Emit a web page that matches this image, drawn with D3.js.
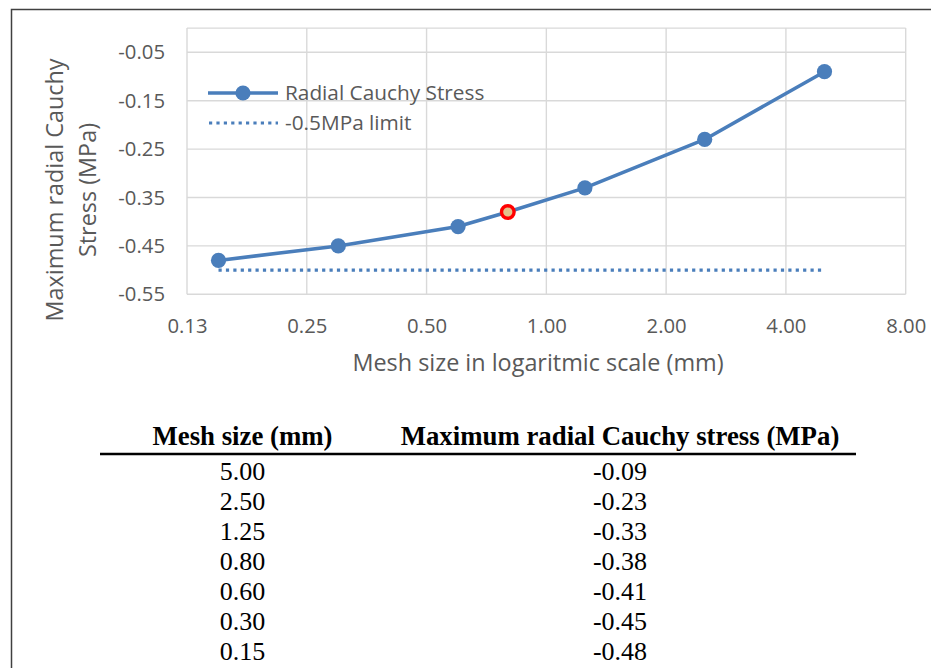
<!DOCTYPE html>
<html>
<head>
<meta charset="utf-8">
<script src="https://cdn.jsdelivr.net/npm/d3@7"></script>
<style>
    body { margin: 0; background: #fff; }
    svg { display: block; }
</style>
</head>
<body>
<svg id="chart"></svg>
<script>
// mesh convergence data
let meshSizes = [5.00, 2.50, 1.25, 0.80, 0.60, 0.30, 0.15];
let radialStress = [-0.09, -0.23, -0.33, -0.38, -0.41, -0.45, -0.48];
let limitValue = -0.5;
let chosenMesh = 0.80;

let xTicks = [0.125, 0.25, 0.5, 1, 2, 4, 8];
let xTickLabels = ["0.13", "0.25", "0.50", "1.00", "2.00", "4.00", "8.00"];
let yTicks = [-0.55, -0.45, -0.35, -0.25, -0.15, -0.05];
let yTickLabels = ["-0.55", "-0.45", "-0.35", "-0.25", "-0.15", "-0.05"];

let seriesNames = ["Radial Cauchy Stress", "-0.5MPa limit"];
let tableHeaders = ["Mesh size (mm)", "Maximum radial Cauchy stress (MPa)"];

let width = 931;
let height = 668;
let blue = "#4a7ebb";
let textGray = "#595959";
let gridGray = "#d9d9d9";
let chartFont = "'Open Sans', sans-serif";
let tableFont = "'Liberation Serif', 'Times New Roman', serif";

let svg = d3.select("#chart").attr("width", width).attr("height", height);

// outer frame (only left and top edges are visible)
svg.append("path")
    .attr("d", "M11.5," + height + "V9.5H" + width)
    .attr("fill", "none")
    .attr("stroke", "#404040")
    .attr("stroke-width", 1.5);

let x = d3.scaleLog().base(2).domain([0.125, 8]).range([187, 905.7]);
let y = d3.scaleLinear().domain([-0.55, 0]).range([294.3, 28.1]);

// gridlines
svg.append("g").selectAll("line").data(yTicks.concat([0])).enter().append("line")
    .attr("x1", x(0.125)).attr("x2", x(8))
    .attr("y1", function (d) { return y(d); })
    .attr("y2", function (d) { return y(d); })
    .attr("stroke", gridGray).attr("stroke-width", 1.4);

svg.append("g").selectAll("line").data(xTicks).enter().append("line")
    .attr("y1", y(-0.55)).attr("y2", y(0))
    .attr("x1", function (d) { return x(d); })
    .attr("x2", function (d) { return x(d); })
    .attr("stroke", gridGray).attr("stroke-width", 1.4);

// axes labels
let xAxis = d3.axisBottom(x).tickValues(xTicks)
    .tickFormat(function (d, i) { return xTickLabels[i]; })
    .tickSize(0).tickPadding(24);
let xg = svg.append("g").attr("transform", "translate(0," + y(-0.55) + ")").call(xAxis);
xg.select(".domain").remove();
xg.selectAll("text").attr("font-family", chartFont).attr("font-size", "20.3px").attr("fill", textGray);

let yAxis = d3.axisLeft(y).tickValues(yTicks)
    .tickFormat(function (d, i) { return yTickLabels[i]; })
    .tickSize(0).tickPadding(22);
let yg = svg.append("g").attr("transform", "translate(" + x(0.125) + ",0)").call(yAxis);
yg.select(".domain").remove();
yg.selectAll("text").attr("font-family", chartFont).attr("font-size", "20.3px").attr("fill", textGray);

// axis titles
svg.append("text")
    .attr("x", 538).attr("y", 371)
    .attr("text-anchor", "middle")
    .attr("font-family", chartFont).attr("font-size", "23.4px").attr("fill", textGray)
    .text("Mesh size in logaritmic scale (mm)");

let yTitle = svg.append("text")
    .attr("transform", "translate(63,190) rotate(-90)")
    .attr("text-anchor", "middle")
    .attr("font-family", chartFont).attr("font-size", "23.4px").attr("fill", textGray);
yTitle.append("tspan").attr("x", 0).attr("y", 0).text("Maximum radial Cauchy");
yTitle.append("tspan").attr("x", 0).attr("y", 33).text("Stress (MPa)");

// limit line
svg.append("line")
    .attr("x1", x(d3.min(meshSizes))).attr("x2", x(d3.max(meshSizes)))
    .attr("y1", y(limitValue)).attr("y2", y(limitValue))
    .attr("stroke", blue).attr("stroke-width", 3.2)
    .attr("stroke-dasharray", "3.2,4.2");

// stress series
let points = meshSizes.map(function (d, i) { return {size: d, stress: radialStress[i]}; });
points.sort(function (a, b) { return a.size - b.size; });

let line = d3.line()
    .x(function (d) { return x(d.size); })
    .y(function (d) { return y(d.stress); });

svg.append("path").datum(points)
    .attr("d", line)
    .attr("fill", "none")
    .attr("stroke", blue).attr("stroke-width", 3.5)
    .attr("stroke-linejoin", "round");

svg.append("g").selectAll("circle").data(points).enter().append("circle")
    .attr("cx", function (d) { return x(d.size); })
    .attr("cy", function (d) { return y(d.stress); })
    .attr("r", function (d) { return d.size === chosenMesh ? 6.3 : 7.6; })
    .attr("fill", function (d) { return d.size === chosenMesh ? "#e3c28c" : blue; })
    .attr("stroke", function (d) { return d.size === chosenMesh ? "#ff0000" : "none"; })
    .attr("stroke-width", 3.4);

// legend
let legend = svg.append("g").attr("transform", "translate(208,0)");
legend.append("line").attr("x1", 0).attr("x2", 70).attr("y1", 93).attr("y2", 93)
    .attr("stroke", blue).attr("stroke-width", 3.5);
legend.append("circle").attr("cx", 35).attr("cy", 93).attr("r", 7.6).attr("fill", blue);
legend.append("line").attr("x1", 1).attr("x2", 70).attr("y1", 123).attr("y2", 123)
    .attr("stroke", blue).attr("stroke-width", 3.2).attr("stroke-dasharray", "3.2,4.2");
legend.selectAll("text").data(seriesNames).enter().append("text")
    .attr("x", 77)
    .attr("y", function (d, i) { return 93 + i * 30; })
    .attr("dy", ".35em")
    .attr("font-family", chartFont).attr("font-size", "20.8px").attr("fill", textGray)
    .text(function (d) { return d; });

// table below the chart
let colX = [242.5, 620];
svg.selectAll(".header").data(tableHeaders).enter().append("text")
    .attr("class", "header")
    .attr("x", function (d, i) { return colX[i]; })
    .attr("y", 445)
    .attr("text-anchor", "middle")
    .attr("font-family", tableFont).attr("font-size", "26.8px").attr("font-weight", "bold")
    .attr("fill", "#000")
    .text(function (d) { return d; });

svg.append("line").attr("x1", 100).attr("x2", 856).attr("y1", 454).attr("y2", 454)
    .attr("stroke", "#000").attr("stroke-width", 2.3);

let rows = svg.selectAll(".row").data(meshSizes).enter().append("g")
    .attr("class", "row")
    .attr("transform", function (d, i) { return "translate(0," + (480 + i * 30) + ")"; });

rows.append("text").attr("x", colX[0]).attr("text-anchor", "middle")
    .attr("font-family", tableFont).attr("font-size", "26px").attr("fill", "#000")
    .text(function (d) { return d.toFixed(2); });
rows.append("text").attr("x", colX[1]).attr("text-anchor", "middle")
    .attr("font-family", tableFont).attr("font-size", "26px").attr("fill", "#000")
    .text(function (d, i) { return radialStress[i].toFixed(2); });
</script>
</body>
</html>
